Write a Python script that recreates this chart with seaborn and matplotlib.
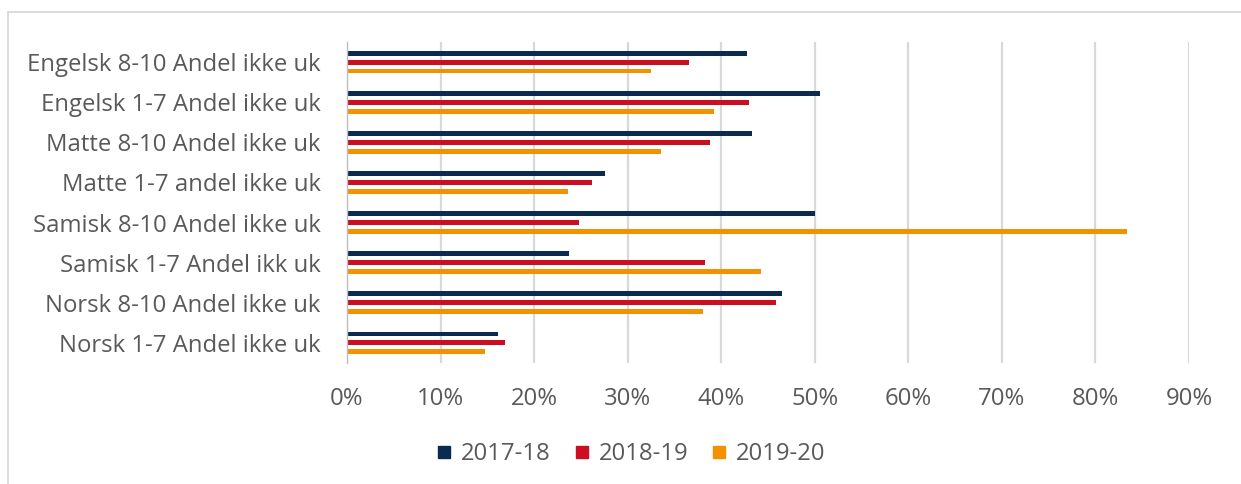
import numpy as np
import pandas as pd
import matplotlib.pyplot as plt
import seaborn as sns
from matplotlib.ticker import PercentFormatter
from matplotlib.lines import Line2D

categories = ["Engelsk 8-10 Andel ikke uk", "Engelsk 1-7 Andel ikke uk",
              "Matte 8-10 Andel ikke uk", "Matte 1-7 andel ikke uk",
              "Samisk 8-10 Andel ikke uk", "Samisk 1-7 Andel ikk uk",
              "Norsk 8-10 Andel ikke uk", "Norsk 1-7 Andel ikke uk"]
years = ["2017-18", "2018-19", "2019-20"]
v_2017_18 = [42.8, 50.6, 43.3, 27.6, 50.0, 23.7, 46.5, 16.1]
v_2018_19 = [36.6, 43.0, 38.8, 26.2, 24.8, 38.3, 45.9, 16.9]
v_2019_20 = [32.5, 39.2, 33.6, 23.6, 83.4, 44.3, 38.0, 14.7]
colors = ["#0b2a50", "#cc0e22", "#f39200"]

df = pd.DataFrame({
    "Kategori": categories * 3,
    "Aar": [y for y in years for _ in categories],
    "Andel": [v / 100 for v in v_2017_18 + v_2018_19 + v_2019_20],
})

sns.set_style("white")
plt.rcParams["font.family"] = ["Open Sans", "DejaVu Sans"]
text_col = "#595959"
grid_col = "#d9d9d9"
fs = 17.2

fig = plt.figure(figsize=(12.41, 4.84), dpi=100)
ax = fig.add_axes([347 / 1241, 1 - 363 / 484, (1189 - 347) / 1241, (363 - 42) / 484])

sns.barplot(data=df, x="Andel", y="Kategori", hue="Aar", hue_order=years,
            order=categories, palette=colors, orient="h", width=0.667, gap=0.45,
            saturation=1, legend=False, ax=ax, errorbar=None, linewidth=0)

ax.set_xlim(0, 0.9)
ax.set_xticks(np.arange(0, 0.91, 0.1))
ax.xaxis.set_major_formatter(PercentFormatter(xmax=1, decimals=0))
ax.set_axisbelow(True)
ax.xaxis.grid(True, color=grid_col, lw=1.6)
ax.yaxis.grid(False)
ax.set_xlabel("")
ax.set_ylabel("")

for s in ["top", "right", "bottom"]:
    ax.spines[s].set_visible(False)
ax.spines["left"].set_color("#bfbfbf")
ax.spines["left"].set_linewidth(1.0)

ax.set_yticks(np.arange(-0.5, len(categories), 1), minor=True)
ax.tick_params(axis="y", which="major", length=0, pad=19, labelsize=fs, labelcolor=text_col)
ax.tick_params(axis="y", which="minor", length=7, width=1.0, color="#bfbfbf", direction="out")
ax.tick_params(axis="x", which="major", length=0, pad=17, labelsize=fs, labelcolor=text_col)

handles = [Line2D([], [], marker="s", linestyle="none", markersize=8,
                  markerfacecolor=c, markeredgecolor=c) for c in colors]
fig.legend(handles, years, loc="center", bbox_to_anchor=(630 / 1241, 1 - 454 / 484),
           ncol=3, frameon=False, fontsize=fs, labelcolor=text_col,
           handletextpad=0.3, columnspacing=0.9, handlelength=0.8)

# light chart border (Excel-style chart area)
fig.add_artist(Line2D([8 / 1241, 1.01], [1 - 12 / 484, 1 - 12 / 484],
                      transform=fig.transFigure, color=grid_col, lw=1.3))
fig.add_artist(Line2D([8 / 1241, 8 / 1241], [1 - 12 / 484, -0.01],
                      transform=fig.transFigure, color=grid_col, lw=1.3))

fig.savefig("out.png", dpi=100, facecolor="white")
